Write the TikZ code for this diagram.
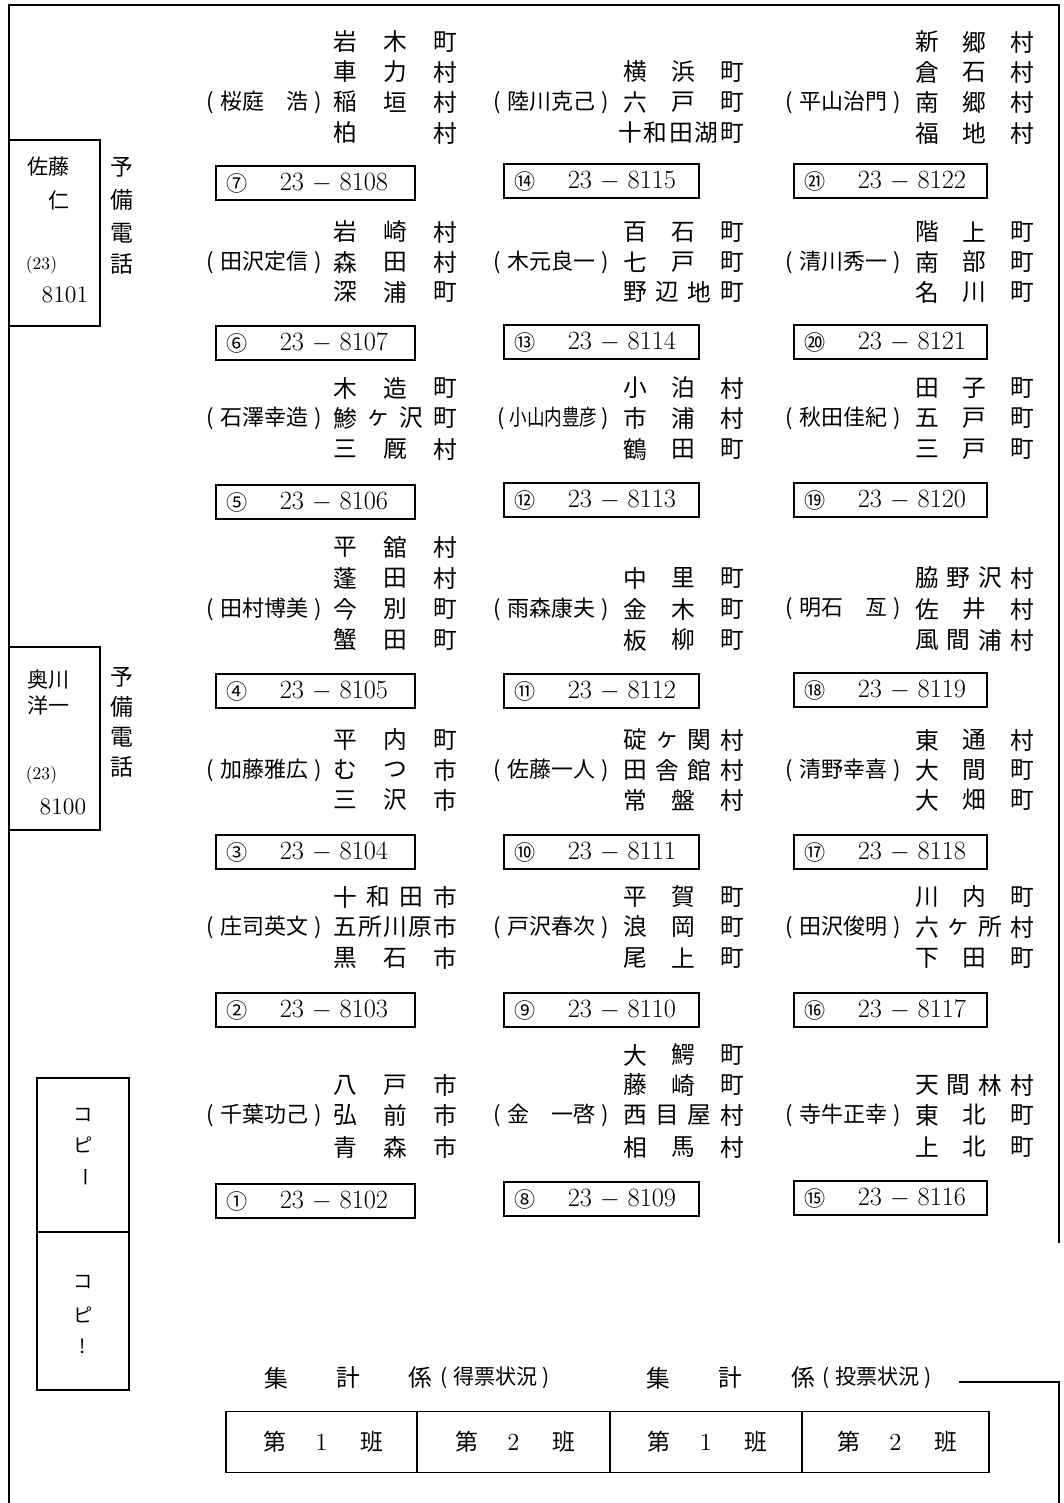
\documentclass[tikz,border=0pt]{standalone}
\usepackage{fontspec}
\newfontfamily\cjk{Noto Sans CJK JP}
\newcommand\pn[4]{%
  \foreach \c [count=\i] in {#4} {\xdef\nn{\i}}%
  \foreach \c [count=\i] in {#4} {\node[pl] (p\i-#1-#3) at ({#1+(\i-1)*(#2-#1)/(\nn-1)},#3) {\c};}%
}
\newcommand\nmx[3]{\node[nm] (n-#1-#2) at (#1,#2) {(\hspace{.3em}#3\hspace{.3em})};}
\newcommand\tbox[6]{%
  \node[tb, minimum width={(#3-#2)*0.02cm}] (#1) at ({(#2+#3)/2},#4) {};
  \node[circ] (#1c) at ({#2+21},#4) {#5};
  \node[num] (#1n) at ({#2+63},#4) {23 $-$ #6};
}
\begin{document}
\begin{tikzpicture}[x=0.02cm,y=-0.02cm,line width=1pt,
  pl/.style={font=\cjk\fontsize{13.5}{14}\selectfont, inner sep=0pt},
  nm/.style={font=\cjk\fontsize{12.5}{13}\selectfont, inner sep=0pt, anchor=east},
  tb/.style={draw, line width=1pt, minimum height=0.68cm, inner sep=0pt},
  circ/.style={font=\cjk\fontsize{12}{13}\selectfont, inner sep=0pt},
  num/.style={font=\fontsize{15}{16}\selectfont, inner sep=0pt, anchor=west},
  vt/.style={font=\cjk\fontsize{13}{14}\selectfont, inner sep=0pt},
  lt/.style={font=\cjk\fontsize{12}{13}\selectfont, inner sep=0pt},
  lbox/.style={draw, line width=1pt, inner sep=0pt, minimum width=1.82cm},
  cbox/.style={draw, line width=1pt, inner sep=0pt, minimum width=1.84cm},
  kt/.style={font=\cjk\fontsize{11}{12}\selectfont, inner sep=0pt},
  hd/.style={font=\cjk\fontsize{13.5}{14}\selectfont, inner sep=0pt},
  cell/.style={draw, line width=1pt, inner sep=0pt, minimum height=1.22cm},
  ct/.style={font=\cjk\fontsize{13}{14}\selectfont, inner sep=0pt},
  cd/.style={font=\fontsize{14}{15}\selectfont, inner sep=0pt}]
\useasboundingbox (0,0) rectangle (1063,1503);
% outer frame
\coordinate (tl) at (9,5); \coordinate (tr) at (1059,5);
\coordinate (bl) at (9,1503); \coordinate (rb) at (1059,1243);
\draw (bl) -- (tl) -- (tr) -- (rb);
\coordinate (ls) at (959,1382); \coordinate (lc) at (1059,1382); \coordinate (le) at (1059,1503);
\draw (ls) -- (lc) -- (le);
% left boxes
\node[lbox, minimum height=3.72cm] (sato) at (54.5,233) {};
\node[lt, anchor=west] (sato1) at (27,167) {佐藤};
\node[lt, anchor=east] (sato2) at (70,200) {仁};
\node[inner sep=0pt, anchor=west, font=\fontsize{10}{11}\selectfont] (sato3) at (25,265) {(23)};
\node[inner sep=0pt, anchor=east, font=\fontsize{13.5}{14}\selectfont] (sato4) at (89,295) {8101};
\node[vt] (y1a) at (122,167) {予};
\node[vt] (y1b) at (122,200) {備};
\node[vt] (y1c) at (122,233) {電};
\node[vt] (y1d) at (122,264) {話};
\node[lbox, minimum height=3.66cm] (oku) at (54.5,738.5) {};
\node[lt, anchor=west] (oku1) at (27,680) {奥川};
\node[lt, anchor=west] (oku2) at (27,705) {洋一};
\node[inner sep=0pt, anchor=west, font=\fontsize{10}{11}\selectfont] (oku3) at (25,775) {(23)};
\node[inner sep=0pt, anchor=east, font=\fontsize{13.5}{14}\selectfont] (oku4) at (87,807) {8100};
\node[vt] (y2a) at (122,677) {予};
\node[vt] (y2b) at (122,707) {備};
\node[vt] (y2c) at (122,737) {電};
\node[vt] (y2d) at (122,767) {話};
% copy boxes
\node[cbox, minimum height=3.08cm] (cp1) at (83,1155) {};
\node[cbox, minimum height=3.16cm] (cp2) at (83,1311) {};
\node[kt] (cp1a) at (83,1115) {コ};
\node[kt] (cp1b) at (83,1145) {ピ};
\node[kt, rotate=-90] (cp1c) at (83,1177) {ー};
\node[kt] (cp2a) at (83,1282) {コ};
\node[kt] (cp2b) at (83,1315) {ピ};
\node[kt] (cp2c) at (83,1346) {!};
% ---------- column 1
\pn{345}{445}{42}{岩,木,町}
\pn{345}{445}{72}{車,力,村}
\pn{345}{445}{102}{稲,垣,村}
\pn{345}{445}{133}{柏,村}
\nmx{323}{102}{桜庭　浩}
\tbox{t7}{216}{415}{183}{⑦}{8108}
\pn{345}{445}{232}{岩,崎,村}
\pn{345}{445}{262}{森,田,村}
\pn{345}{445}{292}{深,浦,町}
\nmx{323}{262}{田沢定信}
\tbox{t6}{216}{415}{343}{⑥}{8107}
\pn{345}{445}{388}{木,造,町}
\pn{345}{445}{418}{鯵,ヶ,沢,町}
\pn{345}{445}{449}{三,厩,村}
\nmx{323}{418}{石澤幸造}
\tbox{t5}{216}{415}{502}{⑤}{8106}
\pn{345}{445}{547}{平,舘,村}
\pn{345}{445}{578}{蓬,田,村}
\pn{345}{445}{609}{今,別,町}
\pn{345}{445}{640}{蟹,田,町}
\nmx{323}{609}{田村博美}
\tbox{t4}{216}{415}{691}{④}{8105}
\pn{345}{445}{740}{平,内,町}
\pn{345}{445}{770}{む,つ,市}
\pn{345}{445}{800}{三,沢,市}
\nmx{323}{770}{加藤雅広}
\tbox{t3}{216}{415}{852}{③}{8104}
\pn{345}{445}{897}{十,和,田,市}
\pn{345}{445}{927}{五,所,川,原,市}
\pn{345}{445}{958}{黒,石,市}
\nmx{323}{927}{庄司英文}
\tbox{t2}{216}{415}{1010}{②}{8103}
\pn{345}{445}{1085}{八,戸,市}
\pn{345}{445}{1115}{弘,前,市}
\pn{345}{445}{1147}{青,森,市}
\nmx{323}{1115}{千葉功己}
\tbox{t1}{216}{415}{1201}{①}{8102}
% ---------- column 2
\pn{635}{732}{72}{横,浜,町}
\pn{635}{732}{102}{六,戸,町}
\pn{630}{732}{133}{十,和,田,湖,町}
\nmx{610}{102}{陸川克己}
\tbox{t14}{504}{699}{181}{⑭}{8115}
\pn{635}{732}{232}{百,石,町}
\pn{635}{732}{262}{七,戸,町}
\pn{635}{732}{292}{野,辺,地,町}
\nmx{610}{262}{木元良一}
\tbox{t13}{504}{699}{342}{⑬}{8114}
\pn{635}{732}{388}{小,泊,村}
\pn{635}{732}{418}{市,浦,村}
\pn{635}{732}{449}{鶴,田,町}
\node[nm] (n-610-418) at (610,418) {(\hspace{.2em}\scalebox{0.8}[1]{小山内豊彦}\hspace{.2em})};
\tbox{t12}{504}{699}{500}{⑫}{8113}
\pn{635}{732}{578}{中,里,町}
\pn{635}{732}{609}{金,木,町}
\pn{635}{732}{640}{板,柳,町}
\nmx{610}{609}{雨森康夫}
\tbox{t11}{504}{699}{691}{⑪}{8112}
\pn{635}{732}{740}{碇,ヶ,関,村}
\pn{635}{732}{770}{田,舎,館,村}
\pn{635}{732}{800}{常,盤,村}
\nmx{610}{770}{佐藤一人}
\tbox{t10}{504}{699}{852}{⑩}{8111}
\pn{635}{732}{897}{平,賀,町}
\pn{635}{732}{927}{浪,岡,町}
\pn{635}{732}{958}{尾,上,町}
\nmx{610}{927}{戸沢春次}
\tbox{t9}{504}{699}{1010}{⑨}{8110}
\pn{635}{732}{1055}{大,鰐,町}
\pn{635}{732}{1085}{藤,崎,町}
\pn{635}{732}{1115}{西,目,屋,村}
\pn{635}{732}{1147}{相,馬,村}
\nmx{610}{1115}{金　一啓}
\tbox{t8}{504}{699}{1199}{⑧}{8109}
% ---------- column 3
\pn{927}{1022}{42}{新,郷,村}
\pn{927}{1022}{72}{倉,石,村}
\pn{927}{1022}{102}{南,郷,村}
\pn{927}{1022}{133}{福,地,村}
\nmx{902}{102}{平山治門}
\tbox{t21}{794}{987}{181}{㉑}{8122}
\pn{927}{1022}{232}{階,上,町}
\pn{927}{1022}{262}{南,部,町}
\pn{927}{1022}{292}{名,川,町}
\nmx{902}{262}{清川秀一}
\tbox{t20}{794}{987}{342}{⑳}{8121}
\pn{927}{1022}{388}{田,子,町}
\pn{927}{1022}{418}{五,戸,町}
\pn{927}{1022}{449}{三,戸,町}
\nmx{902}{418}{秋田佳紀}
\tbox{t19}{794}{987}{500}{⑲}{8120}
\pn{927}{1022}{578}{脇,野,沢,村}
\pn{927}{1022}{609}{佐,井,村}
\pn{927}{1022}{640}{風,間,浦,村}
\nmx{902}{609}{明石　亙}
\tbox{t18}{794}{987}{690}{⑱}{8119}
\pn{927}{1022}{740}{東,通,村}
\pn{927}{1022}{770}{大,間,町}
\pn{927}{1022}{800}{大,畑,町}
\nmx{902}{770}{清野幸喜}
\tbox{t17}{794}{987}{852}{⑰}{8118}
\pn{927}{1022}{897}{川,内,町}
\pn{927}{1022}{927}{六,ヶ,所,村}
\pn{927}{1022}{958}{下,田,町}
\nmx{902}{927}{田沢俊明}
\tbox{t16}{794}{987}{1010}{⑯}{8117}
\pn{927}{1022}{1085}{天,間,林,村}
\pn{927}{1022}{1115}{東,北,町}
\pn{927}{1022}{1147}{上,北,町}
\nmx{902}{1115}{寺牛正幸}
\tbox{t15}{794}{987}{1198}{⑮}{8116}
% ---------- bottom
\node[hd] (h1a) at (276,1378) {集};
\node[hd] (h1b) at (348,1378) {計};
\node[hd] (h1c) at (420,1378) {係};
\node[lt, anchor=west] (h1d) at (440,1378) {(\hspace{.25em}得票状況\hspace{.25em})};
\node[hd] (h2a) at (658,1378) {集};
\node[hd] (h2b) at (730,1378) {計};
\node[hd] (h2c) at (803,1378) {係};
\node[lt, anchor=west] (h2d) at (822,1378) {(\hspace{.25em}投票状況\hspace{.25em})};
\node[cell, minimum width=3.82cm] (c1) at (321.5,1442) {};
\node[cell, minimum width=3.86cm] (c2) at (513.5,1442) {};
\node[cell, minimum width=3.84cm] (c3) at (706,1442) {};
\node[cell, minimum width=3.74cm] (c4) at (895.5,1442) {};
\foreach \cx/\d/\nm in {321.5/1/c1, 513.5/2/c2, 706/1/c3, 895.5/2/c4} {
  \node[ct] (\nm a) at (\cx-47,1442) {第};
  \node[cd] (\nm b) at (\cx,1442) {\d};
  \node[ct] (\nm c) at (\cx+50,1442) {班};
}
\end{tikzpicture}
\end{document}
